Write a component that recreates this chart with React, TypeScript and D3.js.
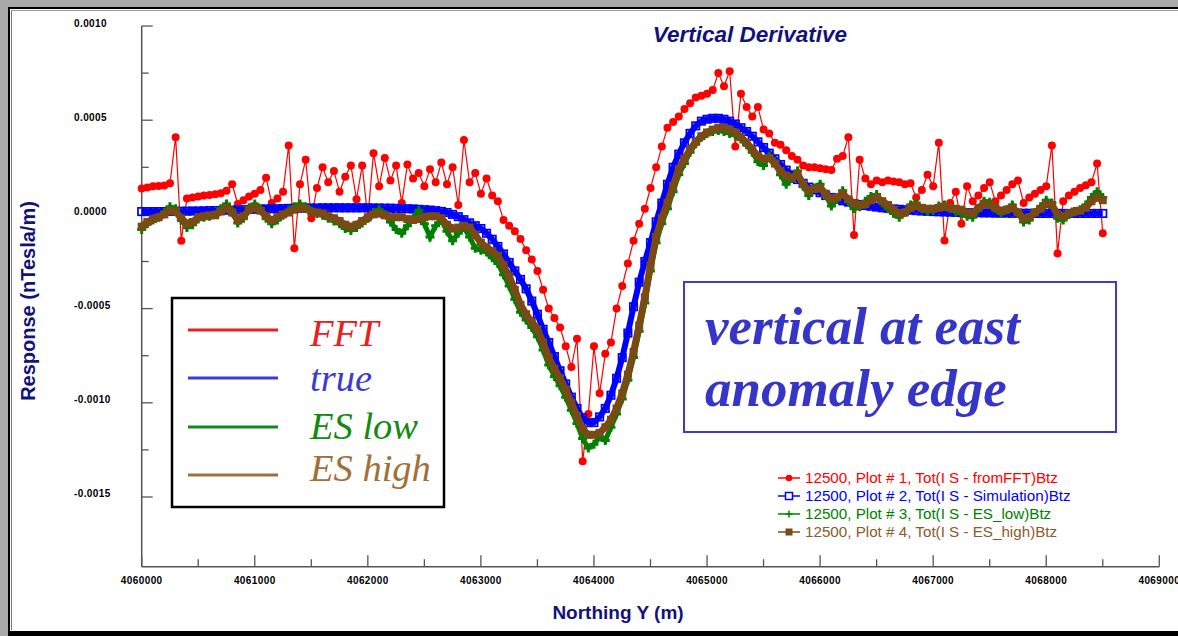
import React from 'react';
import * as d3 from 'd3';

// Vertical-derivative responses along the profile, one value every 50 m
// starting at Northing 4060000. Values are in units of 1e-4 nT/m.
const profileStart = 4060000;
const profileStep = 50;

const fftValues = [
  1.38, 1.43, 1.49, 1.51, 1.54, 1.65, 4.1, -1.4, 0.85, 0.9,
  0.95, 1.0, 1.03, 1.07, 1.12, 1.25, 1.6, 0.55, 0.75, 0.95,
  1.1, 1.3, 1.95, 0.6, 0.85, 1.2, 3.66, -1.8, 1.6, 2.9,
  -0.2, 1.4, 2.5, 1.7, 2.3, 1.2, 2.0, 2.6, 0.8, 2.6,
  -0.2, 3.25, 1.5, 3.0, 1.8, 2.6, 0.6, 2.65, 1.9, 2.2,
  1.5, 2.4, 1.7, 2.75, 1.6, 2.5, 0.5, 3.95, 1.7, 2.2,
  1.1, 1.9, 1.0, 0.7, -0.3, -0.6, -0.9, -1.3, -1.9, -2.4,
  -3.0, -4.0, -5.0, -5.5, -6.0, -7.0, -8.1, -6.6, -13.1, -10.6,
  -7.0, -9.5, -7.4, -6.8, -5.0, -3.8, -2.6, -1.4, -0.5, 0.3,
  1.4, 2.5, 3.6, 4.6, 4.9, 5.2, 5.6, 5.9, 6.2, 6.3,
  6.4, 6.6, 7.5, 6.8, 7.6, 3.6, 6.4, 5.7, 5.2, 5.7,
  4.5, 4.3, 3.8, 3.7, 3.4, 3.1, 2.9, 2.6, 2.5, 2.5,
  2.45, 2.4, 2.35, 2.95, 3.1, 4.1, -1.1, 2.9, 1.9, 1.6,
  1.8, 1.7, 1.8, 1.75, 1.7, 1.6, 1.65, 0.9, 1.3, 2.1,
  1.5, 3.8, -1.38, 0.6, 1.2, -0.5, 1.5, 0.7, 1.0, 1.4,
  1.7, 0.7, 1.0, 1.3, 1.6, 1.8, 0.6, 0.9, 1.1, 1.3,
  1.5, 3.66, -2.07, 0.7, 1.0, 1.2, 1.4, 1.55, 1.7, 2.7,
  -1.0,
];

const trueValues = [
  0.15, 0.15, 0.15, 0.15, 0.15, 0.16, 0.16, 0.17, 0.17, 0.18,
  0.18, 0.19, 0.2, 0.2, 0.21, 0.22, 0.23, 0.24, 0.25, 0.26,
  0.27, 0.28, 0.29, 0.3, 0.3, 0.31, 0.32, 0.32, 0.33, 0.33,
  0.34, 0.34, 0.35, 0.35, 0.35, 0.35, 0.35, 0.35, 0.35, 0.35,
  0.35, 0.34, 0.34, 0.33, 0.33, 0.32, 0.31, 0.3, 0.29, 0.27,
  0.25, 0.23, 0.2, 0.16, 0.1, 0.0, -0.12, -0.28, -0.45, -0.6,
  -0.75, -1.0, -1.32, -1.7, -2.1, -2.55, -3.0, -3.45, -3.95, -4.6,
  -5.3, -6.1, -6.8, -7.55, -8.3, -9.0, -9.7, -10.3, -10.8, -11.05,
  -11.05, -10.75, -10.3, -9.6, -8.7, -7.6, -6.3, -4.9, -3.6, -2.5,
  -1.5, -0.4, 0.6, 1.6, 2.5, 3.2, 3.8, 4.3, 4.7, 4.95,
  5.05, 5.1, 5.1, 5.05, 4.95, 4.8, 4.6, 4.4, 4.15, 3.85,
  3.55, 3.25, 2.95, 2.65, 2.35, 2.1, 1.85, 1.65, 1.45, 1.3,
  1.15, 1.0, 0.9, 0.8, 0.72, 0.65, 0.58, 0.52, 0.47, 0.43,
  0.39, 0.35, 0.32, 0.29, 0.27, 0.25, 0.22, 0.2, 0.18, 0.16,
  0.15, 0.14, 0.13, 0.12, 0.11, 0.1, 0.1, 0.09, 0.09, 0.08,
  0.08, 0.07, 0.07, 0.07, 0.06, 0.06, 0.06, 0.06, 0.05, 0.05,
  0.05, 0.05, 0.05, 0.05, 0.05, 0.05, 0.05, 0.05, 0.05, 0.05,
  0.05,
];

const esLowValues = [
  -0.8, -0.5, -0.3, -0.15, 0.1, 0.4, 0.3, -0.3, -0.7, -0.55,
  -0.25, -0.15, -0.1, 0.0, 0.3, 0.55, 0.2, -0.45, -0.2, 0.35,
  0.55, 0.3, -0.2, -0.5, -0.3, -0.05, 0.2, 0.4, 0.55, 0.4,
  0.2, 0.05, -0.05, -0.2, -0.35, -0.5, -0.75, -0.85, -0.7, -0.45,
  -0.2, 0.1, 0.25, 0.0, -0.4, -0.8, -1.0, -0.6, -0.2, 0.2,
  -0.5, -1.2, -0.6, -0.3, -0.9, -1.4, -1.0, -0.7, -1.2, -1.8,
  -1.9, -2.0, -2.3, -2.6, -3.2, -3.8, -4.5, -5.2, -5.6, -6.0,
  -6.5, -7.2, -8.0, -8.6, -9.1, -9.7, -10.4, -11.1, -11.9, -12.4,
  -12.2, -11.8, -12.0, -11.3, -10.6, -9.8, -8.8, -7.6, -6.2, -4.7,
  -3.0, -1.5, -0.5, 0.3, 1.2, 2.1, 2.7, 3.3, 3.75, 4.1,
  4.3, 4.4, 4.45, 4.4, 4.3, 4.2, 4.0, 3.7, 3.3, 2.8,
  2.6, 3.1, 2.8, 2.1, 1.6, 1.9, 2.3, 1.5, 1.0, 1.4,
  1.6, 1.0, 0.45, 0.8, 1.25, 0.7, 0.3, 0.4, 0.7, 0.95,
  1.05, 0.6, 0.3, 0.05, -0.15, 0.1, 0.5, 0.6, 0.3, 0.15,
  0.25, 0.45, 0.5, 0.3, 0.15, 0.05, -0.1, -0.15, 0.3, 0.7,
  0.65, 0.3, 0.05, 0.25, 0.5, 0.05, -0.4, -0.3, 0.1, 0.4,
  0.75, 0.6, -0.2, -0.3, 0.0, 0.15, 0.25, 0.5, 0.9, 1.2,
  0.9,
];

const esHighValues = [
  -0.65, -0.4, -0.25, -0.15, 0.0, 0.2, 0.15, -0.2, -0.5, -0.4,
  -0.15, -0.1, -0.05, -0.05, 0.15, 0.35, 0.1, -0.3, -0.1, 0.25,
  0.35, 0.2, -0.1, -0.3, -0.15, 0.0, 0.1, 0.25, 0.35, 0.3,
  0.15, 0.1, 0.05, -0.1, -0.2, -0.35, -0.55, -0.65, -0.55, -0.35,
  -0.15, 0.0, 0.05, -0.05, -0.15, -0.15, -0.15, -0.25, -0.3, -0.25,
  -0.15, -0.1, -0.1, -0.2, -0.55, -0.75, -0.7, -0.6, -0.7, -1.1,
  -1.5, -1.75, -1.95, -2.2, -2.7, -3.3, -4.0, -4.8, -5.3, -5.7,
  -6.1, -6.8, -7.6, -8.2, -8.7, -9.3, -10.0, -10.7, -11.4, -11.7,
  -11.7, -11.6, -11.3, -10.9, -10.3, -9.5, -8.5, -7.3, -5.9, -4.4,
  -2.7, -1.2, -0.2, 0.6, 1.5, 2.4, 2.95, 3.45, 3.85, 4.15,
  4.35, 4.5, 4.6, 4.6, 4.5, 4.35, 4.1, 3.8, 3.45, 3.1,
  2.95, 3.0, 2.7, 2.3, 2.05, 1.95, 2.15, 1.6, 1.25, 1.35,
  1.4, 1.1, 0.8, 0.9, 1.1, 0.8, 0.6, 0.5, 0.55, 0.75,
  0.9, 0.7, 0.5, 0.25, 0.05, 0.1, 0.35, 0.45, 0.35, 0.3,
  0.3, 0.35, 0.4, 0.35, 0.3, 0.25, 0.1, 0.05, 0.35, 0.55,
  0.5, 0.35, 0.2, 0.25, 0.35, 0.1, -0.2, -0.15, 0.1, 0.3,
  0.55, 0.5, 0.0, -0.1, 0.05, 0.15, 0.2, 0.35, 0.7, 0.9,
  0.75,
];

// Axis ticks (y in units of 1e-4 nT/m)
const yMajorTicks = [10, 5, 0, -5, -10, -15];
const yMinorTicks = [7.5, 2.5, -2.5, -7.5, -12.5];
const xMajorTicks = [4060000, 4061000, 4062000, 4063000, 4064000, 4065000, 4066000, 4067000, 4068000, 4069000];
const xMinorTicks = [4060500, 4061500, 4062500, 4063500, 4064500, 4065500, 4066500, 4067500, 4068500];

// Big legend on the left
const legendNames = ['FFT', 'true', 'ES low', 'ES high'];
const legendColors = ['#e82020', '#3b3bd4', '#138a13', '#a26f3a'];

// Plot-series legend
const seriesLabels = [
  '12500, Plot # 1, Tot(I S - fromFFT)Btz',
  '12500, Plot # 2, Tot(I S - Simulation)Btz',
  '12500, Plot # 3, Tot(I S - ES_low)Btz',
  '12500, Plot # 4, Tot(I S - ES_high)Btz',
];
const seriesColors = ['#ff0000', '#0000ff', '#008000', '#7a4a14'];
const seriesTextColors = ['#ff0000', '#0000ff', '#008000', '#8b5a2b'];

const NAVY = '#12127a';
const AXIS = '#555555';
const SANS = '"Liberation Sans", Arial, Helvetica, sans-serif';
const SERIF = '"Liberation Serif", "Times New Roman", Times, serif';

export default function App() {
  const W = 1178;
  const H = 636;
  const x = d3.scaleLinear().domain([4060000, 4069000]).range([141.7, 1159.3]);
  const y = d3.scaleLinear().domain([-18.7, 10]).range([566.7, 26]);
  const northing = fftValues.map((_, i) => profileStart + i * profileStep);

  const lineGen = d3
    .line<number>()
    .x((_, i) => x(northing[i]))
    .y((v) => y(v));

  const x0 = x.range()[0];
  const y0 = y.range()[0];

  const plusPath = (cx: number, cy: number, s: number) =>
    `M${cx - s},${cy}H${cx + s}M${cx},${cy - s}V${cy + s}`;

  const legendRowY = [478, 496, 514, 532];

  return (
    <div style={{ position: 'fixed', left: 0, top: 0, width: W, height: H }}>
      <svg width={W} height={H} style={{ display: 'block' }}>
        {/* window frame */}
        <rect x={0} y={0} width={W} height={H} fill="#a9a9a9" />
        <rect x={8} y={7} width={W - 8} height={H - 7} fill="#000" />
        <rect x={10} y={9} width={W - 10} height={H - 9 - 5} fill="#fff" />
        <line x1={11.5} y1={10} x2={11.5} y2={630} stroke="#777" strokeWidth={1} />
        <line x1={11} y1={10.5} x2={W} y2={10.5} stroke="#999" strokeWidth={1} />

        {/* title */}
        <text x={750} y={42} textAnchor="middle" fontFamily={SANS} fontWeight="bold"
          fontStyle="italic" fontSize={22.5} fill={NAVY}>Vertical Derivative</text>

        {/* y axis */}
        <line x1={x0} y1={y(10)} x2={x0} y2={y0} stroke={AXIS} strokeWidth={1.5} />
        {yMajorTicks.map((t) => (
          <g key={`ym${t}`}>
            <line x1={x0} x2={x0 + 11} y1={y(t)} y2={y(t)} stroke={AXIS} strokeWidth={1.3} />
            <text x={74} y={y(t) + 0.5} fontFamily={SANS} fontWeight="bold" fontSize={10}
              letterSpacing={0.4} fill="#000">{(t * 1e-4).toFixed(4)}</text>
          </g>
        ))}
        {yMinorTicks.map((t) => (
          <line key={`yn${t}`} x1={x0} x2={x0 + 7} y1={y(t)} y2={y(t)} stroke={AXIS} strokeWidth={1.3} />
        ))}

        {/* x axis */}
        <line x1={x0} y1={y0} x2={x(4069000)} y2={y0} stroke={AXIS} strokeWidth={1.5} />
        {xMajorTicks.map((t) => (
          <g key={`xm${t}`}>
            <line x1={x(t)} x2={x(t)} y1={y0} y2={y0 - 11.5} stroke={AXIS} strokeWidth={1.3} />
            <text x={x(t)} y={584} textAnchor="middle" fontFamily={SANS} fontWeight="bold"
              fontSize={10} letterSpacing={0.4} fill="#000">{t}</text>
          </g>
        ))}
        {xMinorTicks.map((t) => (
          <line key={`xn${t}`} x1={x(t)} x2={x(t)} y1={y0} y2={y0 - 7.5} stroke={AXIS} strokeWidth={1.3} />
        ))}

        {/* axis titles */}
        <text x={618} y={619} textAnchor="middle" fontFamily={SANS} fontWeight="bold"
          fontSize={19} fill={NAVY}>Northing Y (m)</text>
        <text transform="translate(35,301) rotate(-90)" textAnchor="middle" fontFamily={SANS}
          fontWeight="bold" fontSize={20} fill={NAVY}>Response (nTesla/m)</text>

        {/* FFT series */}
        <path d={lineGen(fftValues) || ''} fill="none" stroke="#ff0000" strokeWidth={1.2} />
        {fftValues.map((v, i) => (
          <circle key={`f${i}`} cx={x(northing[i])} cy={y(v)} r={4} fill="#ff0000" />
        ))}

        {/* true (simulation) series */}
        <path d={lineGen(trueValues) || ''} fill="none" stroke="#0000ff" strokeWidth={6} />
        {trueValues.map((v, i) => (
          <rect key={`t${i}`} x={x(northing[i]) - 3.7} y={y(v) - 3.7} width={7.4} height={7.4}
            fill="none" stroke="#0000ff" strokeWidth={1.7} />
        ))}

        {/* ES low series */}
        <path d={lineGen(esLowValues) || ''} fill="none" stroke="#008000" strokeWidth={5} />
        {esLowValues.map((v, i) => (
          <path key={`l${i}`} d={plusPath(x(northing[i]), y(v), 4.5)} stroke="#008000" strokeWidth={3} />
        ))}

        {/* ES high series */}
        <path d={lineGen(esHighValues) || ''} fill="none" stroke="#7a4a14" strokeWidth={7} />
        {esHighValues.map((v, i) => (
          <rect key={`h${i}`} x={x(northing[i]) - 4} y={y(v) - 4} width={8} height={8} fill="#7a4a14" />
        ))}

        {/* left legend */}
        <rect x={172} y={298} width={272} height={209} fill="#fff" stroke="#000" strokeWidth={2.5} />
        {legendNames.map((name, i) => {
          const ly = [330, 378, 427, 475][i];
          const by = [346, 391, 439, 481][i];
          return (
            <g key={name}>
              <line x1={188} x2={278} y1={ly} y2={ly} stroke={legendColors[i]} strokeWidth={3} />
              <text x={310} y={by} fontFamily={SERIF} fontStyle="italic" fontSize={38.5}
                fill={legendColors[i]}>{name}</text>
            </g>
          );
        })}

        {/* annotation box */}
        <rect x={684} y={282} width={432} height={150} fill="#fff" stroke="#3c3cc8" strokeWidth={2} />
        <text x={705} y={344} fontFamily={SERIF} fontStyle="italic" fontWeight="bold" fontSize={53}
          fill="#3535c8">vertical at east</text>
        <text x={705} y={406} fontFamily={SERIF} fontStyle="italic" fontWeight="bold" fontSize={53}
          fill="#3535c8">anomaly edge</text>

        {/* series legend */}
        {seriesLabels.map((label, i) => {
          const ry = legendRowY[i];
          const c = seriesColors[i];
          return (
            <g key={label}>
              <line x1={778} x2={800} y1={ry} y2={ry} stroke={c} strokeWidth={1.5} />
              {i === 0 && <circle cx={789} cy={ry} r={3.3} fill={c} />}
              {i === 1 && (
                <rect x={785.5} y={ry - 3.5} width={7} height={7} fill="#fff" stroke={c} strokeWidth={1.5} />
              )}
              {i === 2 && <path d={plusPath(789, ry, 3.5)} stroke={c} strokeWidth={1.5} />}
              {i === 3 && <rect x={785.5} y={ry - 3.5} width={7} height={7} fill={c} />}
              <text x={805} y={ry + 5} fontFamily={SANS} fontSize={15.2} fill={seriesTextColors[i]}>
                {label}
              </text>
            </g>
          );
        })}
      </svg>
    </div>
  );
}
